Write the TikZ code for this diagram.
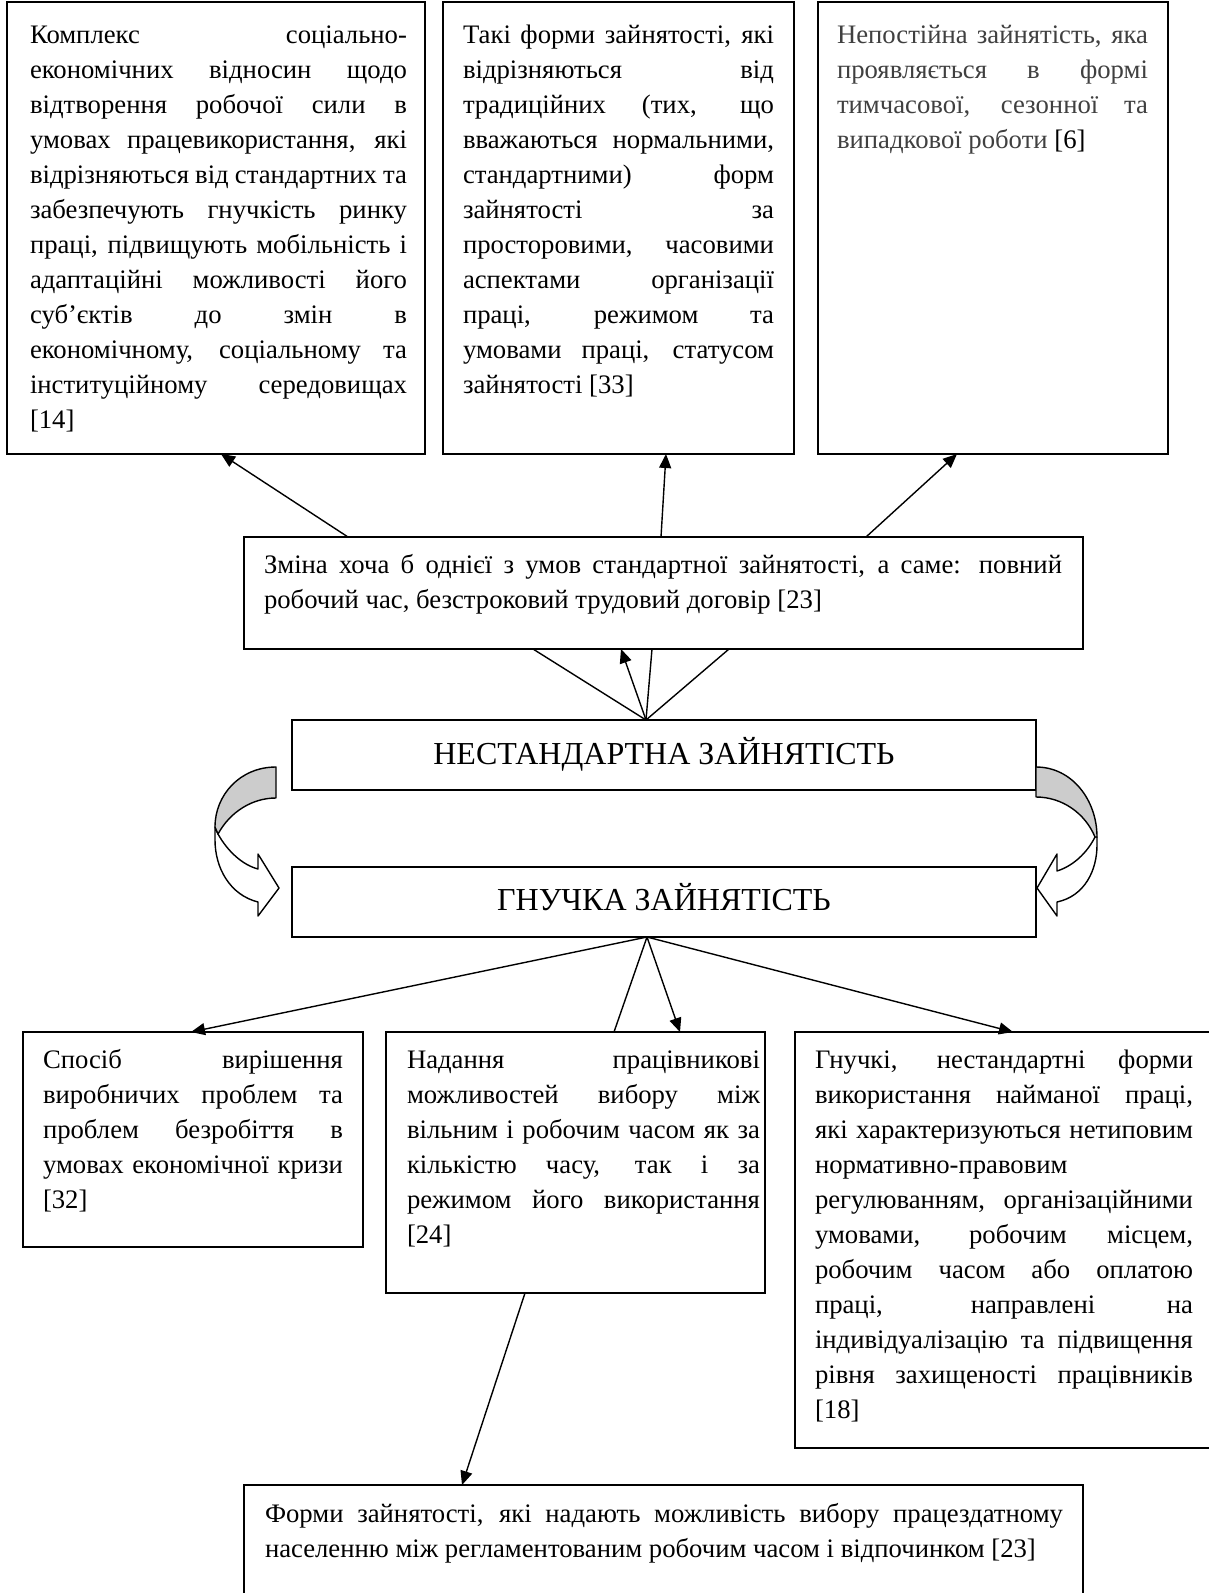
\documentclass[tikz,border=0pt]{standalone}
\usepackage{fontspec}
\setmainfont{Liberation Serif}
\usetikzlibrary{calc,arrows.meta}
\definecolor{txtgray}{HTML}{404040}
\definecolor{bandgray}{HTML}{CCCCCC}
\newcommand\jl[1]{\hbox to\hsize{#1}}
\newcommand\nl[1]{\hbox{#1}}
\newcommand\para[2]{\vtop{\hsize=#1pt\fontsize{26.7}{35}\selectfont\lineskiplimit=-100pt\relax #2}}
\tikzset{
  box/.style={draw, line width=1.4pt, inner sep=0pt, outer sep=0pt, anchor=north west},
  txt/.style={anchor=base west, inner sep=0pt, outer sep=0pt},
  head/.style={font=\fontsize{32}{38}\selectfont, inner sep=0pt},
  arr/.style={line width=1.4pt, -{Triangle[length=14pt,width=12pt]}},
  ln/.style={line width=1.4pt},
  band/.style={line width=1.4pt, line join=round}
}
\begin{document}
\begin{tikzpicture}[x=1pt,y=-1pt]
\useasboundingbox (0,0) rectangle (1209,1593);
\fill[white] (0,0) rectangle (1209,1593);

% boxes
\node[box, minimum width=418pt, minimum height=452pt] (b1) at (7,2) {};
\node[box, minimum width=351pt, minimum height=452pt] (b2) at (443,2) {};
\node[box, minimum width=350pt, minimum height=452pt] (b3) at (818,2) {};
\node[box, minimum width=839pt, minimum height=112pt] (zm) at (244,537) {};
\node[box, minimum width=744pt, minimum height=70pt] (ns) at (292,720) {};
\node[box, minimum width=744pt, minimum height=70pt] (gn) at (292,867) {};
\node[box, minimum width=340pt, minimum height=215pt] (bl) at (23,1032) {};
\node[box, minimum width=379pt, minimum height=261pt] (bm) at (386,1032) {};
\node[box, minimum width=425pt, minimum height=416pt] (br) at (795,1032) {};
\node[box, minimum width=839pt, minimum height=115pt] (bb) at (244,1485) {};

% headings
\node[head] (nsT) at ($(ns.center)+(0,-1)$) {НЕСТАНДАРТНА ЗАЙНЯТІСТЬ};
\node[head] (gnT) at ($(gn.center)+(0,-5)$) {ГНУЧКА ЗАЙНЯТІСТЬ};

% texts
\node[txt] (t1) at (30,43) {\para{377}{%
\jl{Комплекс соціально-}
\jl{економічних відносин щодо}
\jl{відтворення робочої сили в}
\jl{умовах працевикористання, які}
\jl{відрізняються від стандартних та}
\jl{забезпечують гнучкість ринку}
\jl{праці, підвищують мобільність і}
\jl{адаптаційні можливості його}
\jl{суб’єктів до змін в}
\jl{економічному, соціальному та}
\jl{інституційному середовищах}
\nl{[14]}}};

\node[txt] (t2) at (463,43) {\para{311}{%
\jl{Такі форми зайнятості, які}
\jl{відрізняються від}
\jl{традиційних (тих, що}
\jl{вважаються нормальними,}
\jl{стандартними) форм}
\jl{зайнятості за}
\jl{просторовими, часовими}
\jl{аспектами організації}
\jl{праці, режимом та}
\jl{умовами праці, статусом}
\nl{зайнятості [33]}}};

\node[txt, text=txtgray] (t3) at (837,43) {\para{311}{%
\jl{Непостійна зайнятість, яка}
\jl{проявляється в формі}
\jl{тимчасової, сезонної та}
\nl{випадкової роботи \textcolor{black}{[6]}}}};

\node[txt] (t4) at (264,573) {\para{798}{%
\jl{Зміна хоча б однієї з умов стандартної зайнятості, а саме: повний}
\nl{робочий час, безстроковий трудовий договір [23]}}};

\node[txt] (t5) at (43,1068) {\para{300}{%
\jl{Спосіб вирішення}
\jl{виробничих проблем та}
\jl{проблем безробіття в}
\jl{умовах економічної кризи}
\nl{[32]}}};

\node[txt] (t6) at (407,1068) {\para{353}{%
\jl{Надання працівникові}
\jl{можливостей вибору між}
\jl{вільним і робочим часом як за}
\jl{кількістю часу, так і за}
\jl{режимом його використання}
\nl{[24]}}};

\node[txt] (t7) at (815,1068) {\para{378}{%
\jl{Гнучкі, нестандартні форми}
\jl{використання найманої праці,}
\jl{які характеризуються нетиповим}
\nl{нормативно-правовим}
\jl{регулюванням, організаційними}
\jl{умовами, робочим місцем,}
\jl{робочим часом або оплатою}
\jl{праці, направлені на}
\jl{індивідуалізацію та підвищення}
\jl{рівня захищеності працівників}
\nl{[18]}}};

\node[txt] (t8) at (265,1522) {\para{798}{%
\jl{Форми зайнятості, які надають можливість вибору працездатному}
\nl{населенню між регламентованим робочим часом і відпочинком [23]}}};

% arrows from zm to top boxes
\draw[arr] ($(zm.north west)+(104,0)$) -- ($(b1.south west)+(214,0)$);
\draw[arr] ($(zm.north west)+(417,0)$) -- ($(b2.south west)+(223,0)$);
\draw[arr] ($(zm.north west)+(622,0)$) -- ($(b3.south west)+(139,0)$);

% fan from ns to zm
\coordinate (nsA) at ($(ns.north west)+(354,0)$);
\draw[ln] (nsA) -- ($(zm.south west)+(289,0)$);
\draw[ln] (nsA) -- ($(zm.south west)+(408,0)$);
\draw[ln] (nsA) -- ($(zm.south west)+(485,0)$);
\draw[arr] (nsA) -- ($(zm.south west)+(377,0)$);

% fan from gn to bottom boxes
\coordinate (gnA) at ($(gn.south west)+(355,0)$);
\draw[arr] (gnA) -- ($(bl.north west)+(168,0)$);
\draw[ln] (gnA) -- ($(bm.north west)+(228,0)$);
\draw[arr] (gnA) -- ($(bm.north west)+(294,0)$);
\draw[arr] (gnA) -- ($(br.north west)+(218,0)$);

% bm to bb
\draw[arr] ($(bm.south west)+(139,0)$) -- ($(bb.north west)+(218,0)$);

% left curved arrow
\filldraw[band, fill=white] (218,834) .. controls (228,852) and (243,865) .. (258,869) -- (258,854) -- (279,888) -- (258,916) -- (258,902) .. controls (230,895) and (215,868) .. (215,840) -- (215,827) -- cycle;
\filldraw[band, fill=bandgray] (276,767) .. controls (240,767) and (215,795) .. (215,827) -- (218,834) .. controls (230,812) and (252,798) .. (276,798) -- cycle;

% right curved arrow
\filldraw[band, fill=white] (1095,837) .. controls (1087,853) and (1073,866) .. (1057,871) -- (1057,854) -- (1037,888) -- (1057,916) -- (1057,902) .. controls (1085,896) and (1097,870) .. (1097,845) -- (1097,837) -- cycle;
\filldraw[band, fill=bandgray] (1036,767) .. controls (1072,767) and (1097,800) .. (1097,837) -- (1095,837) .. controls (1085,813) and (1062,797) .. (1036,797) -- cycle;
\end{tikzpicture}
\end{document}
